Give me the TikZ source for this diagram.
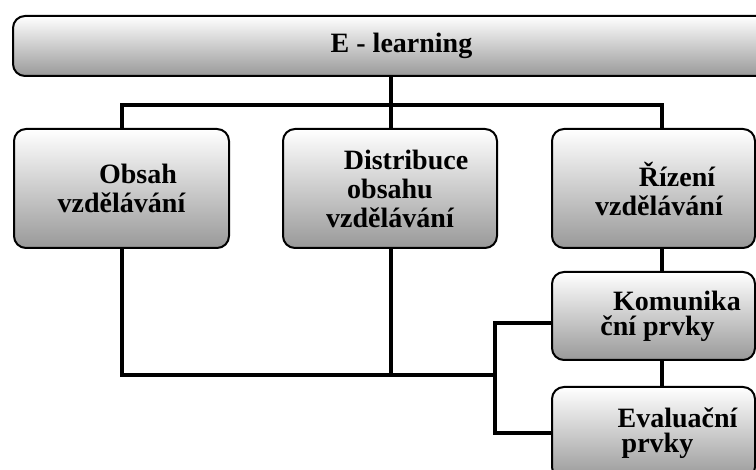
\documentclass[tikz,border=0pt]{standalone}
\usepackage{fontspec}
\setmainfont{Liberation Serif}
\usetikzlibrary{calc,positioning}

\tikzset{
	box/.style={draw=black, line width=1pt, rounded corners=6pt, top color=white, bottom color=black!40, align=center, inner sep=0pt, font=\bfseries\fontsize{14}{14.5}\selectfont},
	small box/.style={box, font=\bfseries\fontsize{14}{12.5}\selectfont},
	conn/.style={line width=2pt},
}

\begin{document}
\begin{tikzpicture}[x=0.5pt,y=-0.5pt]
		\useasboundingbox (0,0) rectangle (756,470);
		\clip (0,0) rectangle (756,470);

		\node[box, minimum width=388.5pt, minimum height=30pt] (elearn) at (401.5,46) {E - learning};

		\node[box, minimum width=107.5pt, minimum height=59.5pt] (obsah) at (121.5,188.5) {\hspace*{16.5pt}Obsah\\vzdělávání};
		\node[box, minimum width=107pt, minimum height=59.5pt] (distr) at (390,188.5) {\hspace*{16pt}Distribuce\\obsahu\\vzdělávání};
		\node[box, minimum width=101.5pt, minimum height=59.5pt] (rizeni) at (653.5,188.5) {\hspace*{23.5pt}Řízení\\\hspace*{5.5pt}vzdělávání};
		\node[small box, minimum width=101.5pt, minimum height=44pt] (komun) at (653.5,316) {\hspace*{23.5pt}Komunika\\\hspace*{4pt}ční prvky};
		\node[small box, minimum width=101.5pt, minimum height=46pt] (eval) at (653.5,433) {\hspace*{24pt}Evaluační\\\hspace*{4pt}prvky};

		% bus points of the tree
		\coordinate (bus) at (391,105);
		\coordinate (busr) at (662,105);
		\coordinate (join) at (495,375);
		\coordinate (kj) at (495,323);

		\draw[conn] (elearn.south -| bus) -- (bus);
		\draw[conn] (obsah.north) |- (busr) -- (busr |- rizeni.north);
		\draw[conn] (bus) -- (bus |- distr.north);
		\draw[conn] (rizeni.south -| busr) -- (komun.north -| busr);
		\draw[conn] (komun.south -| busr) -- (eval.north -| busr);

		\draw[conn] (obsah.south) |- (join);
		\draw[conn] (distr.south -| bus) -- (bus |- join);
		\draw[conn] (komun.west |- kj) -- (kj) |- (eval.west);

\end{tikzpicture}
\end{document}
